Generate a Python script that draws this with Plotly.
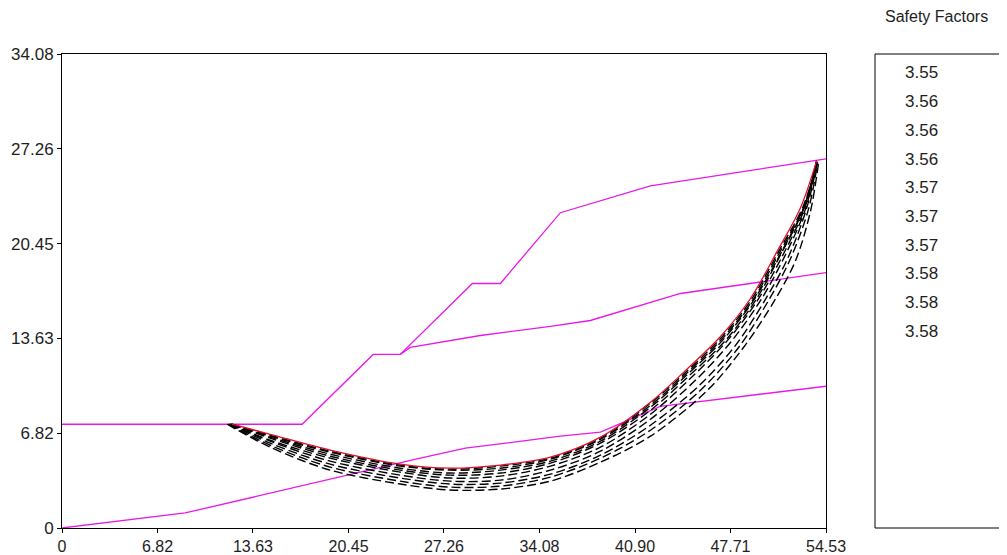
import plotly.graph_objects as go

# ---- axes ----
x_tickvals = [0, 6.82, 13.63, 20.45, 27.26, 34.08, 40.90, 47.71, 54.53]
x_ticktext = ["0", "6.82", "13.63", "20.45", "27.26", "34.08", "40.90", "47.71", "54.53"]
y_tickvals = [0, 6.82, 13.63, 20.45, 27.26, 34.08]
y_ticktext = ["0", "6.82", "13.63", "20.45", "27.26", "34.08"]

# ---- stratigraphy (magenta) ----
ground_x = [0, 17.14, 22.21, 24.14, 29.29, 31.29, 35.57, 42.0, 54.53]
ground_y = [7.46, 7.46, 12.48, 12.48, 17.58, 17.58, 22.67, 24.6, 26.54]

layer2_x = [24.14, 24.86, 29.86, 34.86, 37.71, 40.57, 44.14, 54.53]
layer2_y = [12.48, 12.98, 13.84, 14.49, 14.92, 15.78, 16.86, 18.36]

layer3_x = [0, 8.79, 25.57, 28.79, 35.57, 38.43, 42.71, 54.53]
layer3_y = [0, 1.08, 5.02, 5.74, 6.60, 6.89, 8.75, 10.19]

# ---- slip surfaces ----
safety_factors = ["3.55", "3.56", "3.56", "3.56", "3.57", "3.57", "3.57", "3.58", "3.58", "3.58"]

crit_x = [12.14, 14.86, 19.14, 24.14, 27.71, 31.29, 34.86, 38.43, 42.0, 44.36, 47.0, 49.14, 51.07, 52.71, 53.86]
crit_y = [7.46, 6.74, 5.60, 4.59, 4.30, 4.52, 5.09, 6.53, 9.04, 11.19, 13.77, 16.50, 19.94, 23.03, 26.40]

s1_x = [12.14, 14.86, 19.14, 24.14, 27.71, 31.29, 34.86, 38.43, 42.0, 44.43, 47.07, 49.21, 51.14, 52.86, 53.93]
s1_y = [7.46, 6.67, 5.52, 4.52, 4.23, 4.45, 5.02, 6.46, 8.97, 11.12, 13.70, 16.43, 19.87, 23.03, 26.40]
s2_x = [12.14, 14.86, 19.14, 24.14, 27.71, 31.29, 34.86, 38.43, 42.0, 44.5, 47.14, 49.29, 51.21, 52.93, 53.93]
s2_y = [7.46, 6.60, 5.45, 4.45, 4.16, 4.30, 4.95, 6.38, 8.82, 11.05, 13.63, 16.36, 19.80, 23.03, 26.40]
s3_x = [12.07, 14.86, 19.14, 24.14, 27.71, 31.29, 34.86, 38.43, 42.0, 44.57, 47.21, 49.36, 51.29, 52.93, 53.86]
s3_y = [7.46, 6.53, 5.31, 4.30, 3.95, 4.16, 4.81, 6.24, 8.68, 10.98, 13.56, 16.36, 19.73, 22.96, 26.40]
s4_x = [12.07, 14.86, 19.14, 24.14, 27.71, 31.29, 34.86, 38.43, 42.0, 44.71, 47.36, 49.5, 51.29, 52.93, 53.86]
s4_y = [7.46, 6.46, 5.16, 4.16, 3.80, 3.95, 4.66, 6.10, 8.46, 10.90, 13.49, 16.36, 19.66, 22.96, 26.40]
s5_x = [12.0, 14.86, 19.14, 24.14, 27.71, 31.29, 34.86, 38.43, 42.0, 44.86, 47.5, 49.64, 51.43, 53.0, 53.86]
s5_y = [7.46, 6.31, 5.02, 4.02, 3.59, 3.73, 4.45, 5.81, 8.18, 10.76, 13.49, 16.36, 19.58, 22.96, 26.33]
s6_x = [12.0, 14.86, 19.14, 24.14, 27.71, 31.29, 34.86, 38.43, 42.0, 45.21, 47.71, 49.86, 51.57, 53.07, 53.86]
s6_y = [7.46, 6.24, 4.81, 3.80, 3.37, 3.44, 4.16, 5.52, 7.82, 10.62, 13.34, 16.36, 19.51, 22.96, 26.33]
s7_x = [11.93, 14.86, 19.14, 24.14, 27.71, 31.29, 34.86, 38.43, 42.0, 45.57, 48.07, 50.07, 51.79, 53.14, 53.93]
s7_y = [7.46, 6.10, 4.59, 3.59, 3.16, 3.23, 3.87, 5.24, 7.39, 10.33, 13.13, 16.21, 19.37, 22.96, 26.33]
s8_x = [11.86, 14.86, 19.14, 24.14, 27.71, 31.29, 34.86, 38.43, 42.0, 45.57, 48.29, 50.43, 52.0, 53.29, 53.93]
s8_y = [7.46, 5.95, 4.38, 3.37, 2.94, 3.01, 3.66, 5.02, 7.03, 9.90, 12.98, 16.36, 19.37, 22.96, 26.26]
s9_x = [11.79, 14.86, 19.14, 24.14, 27.71, 31.29, 34.86, 38.43, 42.0, 46.07, 48.64, 50.86, 52.36, 53.43, 54.0]
s9_y = [7.46, 5.81, 4.16, 3.16, 2.73, 2.80, 3.37, 4.73, 6.60, 9.90, 12.98, 16.36, 19.23, 22.81, 26.26]

other_surfaces = [(s1_x, s1_y), (s2_x, s2_y), (s3_x, s3_y), (s4_x, s4_y), (s5_x, s5_y),
                  (s6_x, s6_y), (s7_x, s7_y), (s8_x, s8_y), (s9_x, s9_y)]

MAGENTA = "#e619e6"
FONT = "Liberation Sans"
TEXT_COLOR = "#1e1e1e"

fig = go.Figure()

for lx, ly in [(ground_x, ground_y), (layer2_x, layer2_y), (layer3_x, layer3_y)]:
    fig.add_trace(go.Scatter(x=lx, y=ly, mode="lines", line=dict(color=MAGENTA, width=1.3),
                             hoverinfo="skip", showlegend=False))

for sx, sy in reversed(other_surfaces):
    fig.add_trace(go.Scatter(x=sx, y=sy, mode="lines",
                             line=dict(color="black", width=1.4, dash="9px,4px", shape="spline", smoothing=0.9),
                             hoverinfo="skip", showlegend=False))

fig.add_trace(go.Scatter(x=crit_x, y=crit_y, mode="lines",
                         line=dict(color="#e0102a", width=1.3, shape="spline", smoothing=0.9),
                         hoverinfo="skip", showlegend=False))

# page body has an 8px margin, so the figure is offset by 8px in the window
PAGE_OFF = 8
W, H = 999, 547
L, T = 62 - PAGE_OFF, 54 - PAGE_OFF
R = W - (826 - PAGE_OFF)
B = H - (528 - PAGE_OFF)
plot_w = W - L - R
plot_h = H - T - B

def px_to_paper_x(px):
    return (px - PAGE_OFF - L) / plot_w

def px_to_paper_y(py):
    return (H - B - (py - PAGE_OFF)) / plot_h

# list panel: open on the right (runs off the window edge)
bx0, bx1 = px_to_paper_x(875), px_to_paper_x(1004)
box_line = dict(color="black", width=1)
shapes = [
    dict(type="line", xref="paper", yref="paper", x0=bx0, x1=bx1, y0=1, y1=1, line=box_line),
    dict(type="line", xref="paper", yref="paper", x0=bx0, x1=bx1, y0=0, y1=0, line=box_line),
    dict(type="line", xref="paper", yref="paper", x0=bx0, x1=bx0, y0=0, y1=1, line=box_line),
]

annotations = [dict(text="Safety Factors", xref="paper", yref="paper",
                    x=px_to_paper_x(936), y=px_to_paper_y(16), showarrow=False,
                    font=dict(family=FONT, size=16, color=TEXT_COLOR), xanchor="center", yanchor="middle")]
for i, sf in enumerate(safety_factors):
    annotations.append(dict(text=sf, xref="paper", yref="paper",
                            x=px_to_paper_x(922), y=px_to_paper_y(73 + i * 28.7), showarrow=False,
                            font=dict(family=FONT, size=17, color=TEXT_COLOR), xanchor="center", yanchor="middle"))

axis_common = dict(showgrid=False, zeroline=False, showline=True, mirror=True,
                   linecolor="black", linewidth=1, ticks="outside", ticklen=4, tickcolor="black",
                   automargin=False)

fig.update_layout(
    template="none",
    width=W, height=H, autosize=False,
    margin=dict(l=L, r=R, t=T, b=B, pad=0, autoexpand=False),
    paper_bgcolor="white", plot_bgcolor="white",
    shapes=shapes, annotations=annotations,
    showlegend=False,
    xaxis=dict(range=[0, 54.53], tickvals=x_tickvals, ticktext=x_ticktext,
               tickfont=dict(family=FONT, size=16, color=TEXT_COLOR), **axis_common),
    yaxis=dict(range=[0, 34.08], tickvals=y_tickvals, ticktext=y_ticktext,
               tickfont=dict(family=FONT, size=17, color=TEXT_COLOR), **axis_common),
)

fig.write_html("out.html")
